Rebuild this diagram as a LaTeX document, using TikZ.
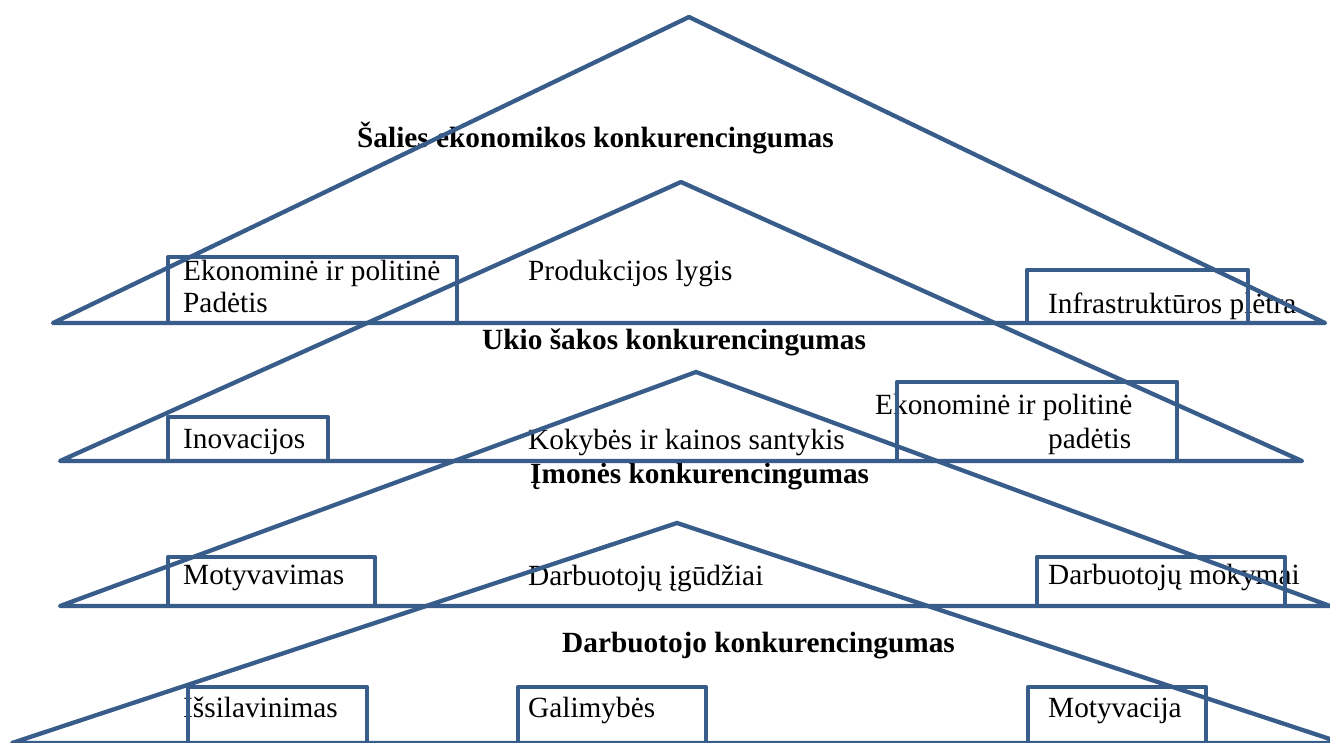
\documentclass[tikz,border=0pt]{standalone}
\usepackage{fontspec}
\setmainfont{Liberation Serif}
\definecolor{lineblue}{HTML}{385D8A}
\begin{document}
\begin{tikzpicture}[x=1pt,y=-1pt,
  shape line/.style={draw=lineblue,line width=4.3pt,line join=round,line cap=round},
  txt/.style={anchor=base west,inner sep=0pt,font=\fontsize{29.3}{33}\selectfont},
  title/.style={txt,font=\fontsize{29.3}{33}\selectfont\bfseries}]
\clip (0,0) rectangle (1330,742);
\fill[white] (0,0) rectangle (1330,742);
% texts
\node[title] (t1) at (357,147) {Šalies ekonomikos konkurencingumas};
\node[title] (t2) at (482,349) {Ukio šakos konkurencingumas};
\node[title] (t3) at (530,483) {Įmonės konkurencingumas};
\node[title] (t4) at (562,652) {Darbuotojo konkurencingumas};
\node[txt] (a1) at (183,280) {Ekonominė ir politinė};
\node[txt] (a2) at (183,312) {Padėtis};
\node[txt] (p1) at (528,280) {Produkcijos lygis};
\node[txt] (i1) at (1048,313) {Infrastruktūros plėtra};
\node[txt] (in) at (183,448) {Inovacijos};
\node[txt] (k1) at (528,449) {Kokybės ir kainos santykis};
\node[txt] (b1) at (875,414) {Ekonominė ir politinė};
\node[txt] (b2) at (1048,448) {padėtis};
\node[txt] (m1) at (183,584) {Motyvavimas};
\node[txt] (d1) at (528,585) {Darbuotojų įgūdžiai};
\node[txt] (d2) at (1048,584) {Darbuotojų mokymai};
\node[txt] (s1) at (183,717) {Išsilavinimas};
\node[txt] (g1) at (528,717) {Galimybės};
\node[txt] (mv) at (1048,717) {Motyvacija};
% triangles
\draw[shape line] (53,323) -- (689,17) -- (1325,323) -- cycle;
\draw[shape line] (60,461) -- (681,182) -- (1302,461) -- cycle;
\draw[shape line] (60,606) -- (696,372) -- (1330,606) -- cycle;
\draw[shape line] (12,743) -- (677,523) -- (1342,743) -- cycle;
% boxes
\draw[shape line] (168,257) rectangle (457,323);
\draw[shape line] (1027,270) rectangle (1248,323);
\draw[shape line] (168,417) rectangle (328,461);
\draw[shape line] (897,382) rectangle (1177,461);
\draw[shape line] (168,557) rectangle (375,606);
\draw[shape line] (1037,557) rectangle (1285,606);
\draw[shape line] (188,687) rectangle (367,745);
\draw[shape line] (518,687) rectangle (706,745);
\draw[shape line] (1028,687) rectangle (1206,745);
\end{tikzpicture}
\end{document}
